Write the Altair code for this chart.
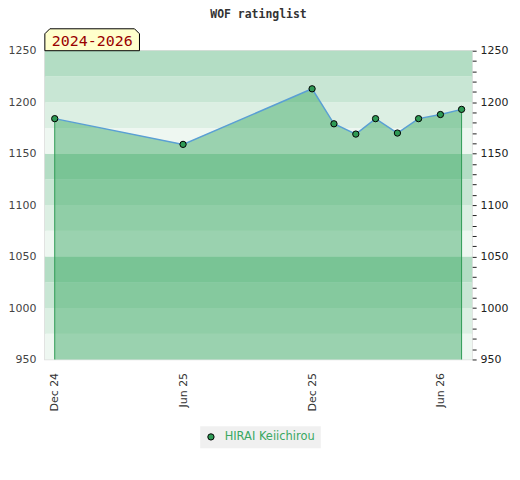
import altair as alt
import pandas as pd

# ---- data ----
dates = ["2024-12-01", "2025-06-01", "2025-12-01", "2026-01-01", "2026-02-01",
         "2026-03-01", "2026-04-01", "2026-05-01", "2026-06-01", "2026-07-01"]
ratings = [1184, 1159, 1213, 1179, 1169, 1184, 1170, 1184, 1188, 1193]
player = "HIRAI Keiichirou"
period_label = ["2024-2026"]

band_lows = list(range(950, 1250, 25))
band_palette = ["#eef7f1", "#dcefe3", "#c8e6d4", "#b3ddc4"]
band_colors = [band_palette[((lo - 950) // 25) % 4] for lo in band_lows]

y_ticks_major = [950, 1000, 1050, 1100, 1150, 1200, 1250]
y_ticks_minor = list(range(950, 1251, 10))

df = pd.DataFrame({"date": dates, "rating": ratings, "player": [player] * len(dates)})
edges = df.iloc[[0, len(df) - 1]]
bands = pd.DataFrame({"lo": band_lows, "hi": [lo + 25 for lo in band_lows], "c": band_colors})

W, H = 429, 310
GREEN = "#2e9a55"

xscale = alt.Scale(type="utc",
                   domain=[alt.DateTime(year=2024, month=11, date=17, utc=True),
                           alt.DateTime(year=2026, month=7, date=16, utc=True)])
yscale = alt.Scale(domain=[950, 1250], zero=False, nice=False)

x_axis = alt.Axis(values=[alt.DateTime(year=2024, month=12, date=1, utc=True),
                          alt.DateTime(year=2025, month=6, date=1, utc=True),
                          alt.DateTime(year=2025, month=12, date=1, utc=True),
                          alt.DateTime(year=2026, month=6, date=1, utc=True)],
                  format="%b %y", labelAngle=270, labelAlign="right",
                  labelBaseline="middle", ticks=False, domain=False, grid=False,
                  labelPadding=13, labelFontSize=11, labelColor="#333",
                  labelFont="DejaVu Sans")
x_enc = alt.X("date:T", scale=xscale, title=None, axis=x_axis)

band_layer = alt.Chart(bands).mark_rect().encode(
    y=alt.Y("lo:Q", scale=yscale, title=None,
            axis=alt.Axis(values=y_ticks_major, orient="left", ticks=False, domain=False,
                          grid=False, labelPadding=9, labelFontSize=11, labelColor="#444",
                          format="d", labelFont="DejaVu Sans")),
    y2="hi:Q",
    color=alt.Color("c:N", scale=None),
)

area = alt.Chart(df).mark_area(color="#2da357", opacity=0.43).encode(
    x=x_enc,
    y=alt.Y("rating:Q", scale=yscale, axis=None),
    y2=alt.datum(950),
)

rules = alt.Chart(edges).mark_rule(color=GREEN, strokeWidth=1).encode(
    x=x_enc,
    y=alt.Y("rating:Q", scale=yscale, axis=None),
    y2=alt.datum(950),
)

line = alt.Chart(df).mark_line(color="#5a9fd4", strokeWidth=1.5).encode(
    x=x_enc,
    y=alt.Y("rating:Q", scale=yscale, axis=None),
)

points = alt.Chart(df).mark_point(filled=True, stroke="black", strokeWidth=1, size=40,
                                  opacity=1).encode(
    x=x_enc,
    y=alt.Y("rating:Q", scale=yscale, title=None,
            axis=alt.Axis(values=y_ticks_minor, orient="right", ticks=True, tickSize=4,
                          tickColor="#222", domain=False, grid=False, labelPadding=4,
                          labelExpr="datum.value % 50 == 0 ? format(datum.value, 'd') : ''",
                          labelFontSize=11, labelColor="#222", labelFont="DejaVu Sans")),
    fill=alt.Fill("player:N", scale=alt.Scale(range=[GREEN]), title=None,
                  legend=alt.Legend(orient="none", legendX=156, legendY=377,
                                    fillColor="#f0f0f0", padding=5,
                                    symbolType="circle", symbolSize=40, labelOffset=8,
                                    symbolStrokeColor="black", symbolStrokeWidth=1,
                                    labelColor="#3aa862", labelFontSize=11.5,
                                    labelFont="DejaVu Sans")),
)

box_shape = "M -47.5 11 L -47.5 -6 L -42.5 -11 L 42.5 -11 L 47.5 -6 L 47.5 11 Z"
label_df = pd.DataFrame({"t": period_label})
box = alt.Chart(label_df).mark_point(shape=box_shape, size=4, filled=True, fill="#ffffcc",
                                     stroke="black", strokeWidth=1, opacity=1).encode(
    x=alt.value(47.5), y=alt.value(-11))
box_text = alt.Chart(label_df).mark_text(font="DejaVu Sans Mono", fontSize=15,
                                         color="#990000", align="center",
                                         baseline="middle").encode(
    x=alt.value(47.5), y=alt.value(-10), text="t:N")

chart = alt.layer(band_layer, area, rules, line, points, box, box_text).resolve_axis(
    y="independent"
).properties(
    width=W, height=H,
    title=alt.TitleParams("WOF ratinglist", font="DejaVu Sans Mono", fontSize=11.5,
                          fontWeight="bold", color="#333", anchor="middle",
                          frame="group", baseline="bottom", offset=-5),
    autosize=alt.AutoSizeParams(type="none"),
    padding={"left": 37, "top": 42, "right": 40, "bottom": 90},
).configure_view(stroke="#dddddd", strokeWidth=1.5)

chart.save("out.html", embed_options={"renderer": "svg", "actions": False})
